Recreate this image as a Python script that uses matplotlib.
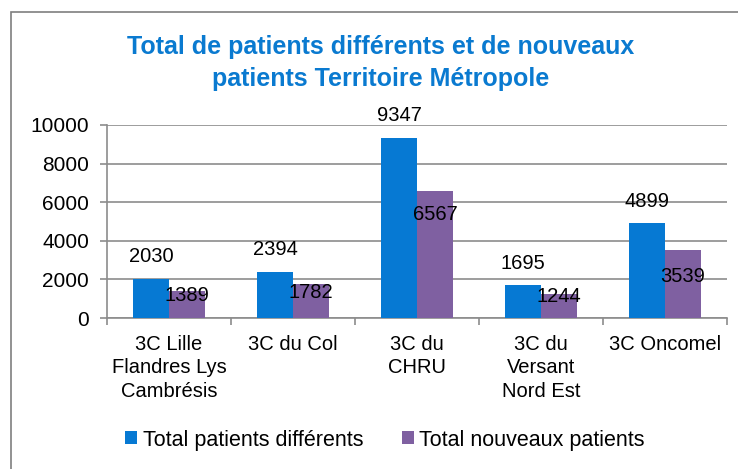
import matplotlib
matplotlib.use('Agg')
import matplotlib.pyplot as plt
from matplotlib.patches import Rectangle
import numpy as np

plt.rcParams['font.family'] = ['Liberation Sans', 'DejaVu Sans']

categories = ['3C Lille\nFlandres Lys\nCambrésis', '3C du Col', '3C du\nCHRU',
              '3C du\nVersant\nNord Est', '3C Oncomel']
total_diff = [2030, 2394, 9347, 1695, 4899]
total_new = [1389, 1782, 6567, 1244, 3539]
series_names = ['Total patients différents', 'Total nouveaux patients']

# vertical offsets (points) of the purple labels, as placed in the original
new_label_dy = [-3, -6.5, -17, -1.5, -19]

blue = '#0679D3'
purple = '#7F60A1'
grid = '#8C8C8C'
fs = 14.5

W, H = 738, 469
fig = plt.figure(figsize=(W / 100, H / 100), dpi=100)
ax = fig.add_axes([107 / W, 1 - 318 / H, 620 / W, 193 / H])

# outer chart frame
fig.patches.append(Rectangle((11 / W, -0.05), 1.0, 1 - 12 / H + 0.05,
                             transform=fig.transFigure, fill=False,
                             edgecolor='#7F7F7F', linewidth=1.2))

x = np.arange(len(categories))
w = 0.29
ax.bar(x - w / 2, total_diff, w, color=blue, label=series_names[0], zorder=3)
ax.bar(x + w / 2, total_new, w, color=purple, label=series_names[1], zorder=3)

for xi, v in zip(x, total_diff):
    ax.annotate(str(v), (xi - w / 2, v), xytext=(0, 16), textcoords='offset points',
                ha='center', va='center', fontsize=fs, zorder=4)
for xi, v, dy in zip(x, total_new, new_label_dy):
    ax.annotate(str(v), (xi + w / 2, v), xytext=(0, dy),
                textcoords='offset points', ha='center', va='center',
                fontsize=fs, zorder=4)

ax.set_xlim(-0.5, len(categories) - 0.5)
ax.set_ylim(0, 10000)
ax.set_yticks(range(0, 10001, 2000))
ax.yaxis.grid(True, color=grid, linewidth=1.2, zorder=0)
ax.set_xticks(x)
ax.set_xticklabels(categories, fontsize=fs, linespacing=1.3)
ax.set_xticks(np.arange(-0.5, len(categories)), minor=True)
ax.tick_params(axis='x', which='major', length=0, pad=12)
ax.tick_params(axis='x', which='minor', length=5, color=grid, width=1.2)
ax.tick_params(axis='y', length=5, color=grid, width=1.2, labelsize=15, pad=8)
for s in ['top', 'right']:
    ax.spines[s].set_visible(False)
for s in ['left', 'bottom']:
    ax.spines[s].set_color(grid)
    ax.spines[s].set_linewidth(1.2)

fig.text(0.5 + 12 / W, 1 - 63 / H,
         'Total de patients différents et de nouveaux\npatients Territoire Métropole',
         ha='center', va='center', color='#0A7AD0', fontsize=18,
         fontweight='bold', linespacing=1.4)

fig.legend(loc='center', bbox_to_anchor=(385 / W, 1 - 440 / H), ncol=2,
           frameon=False, fontsize=15.5, handlelength=0.55, handleheight=0.55,
           handletextpad=0.25, columnspacing=1.8)

fig.savefig('out.png', dpi=100)
